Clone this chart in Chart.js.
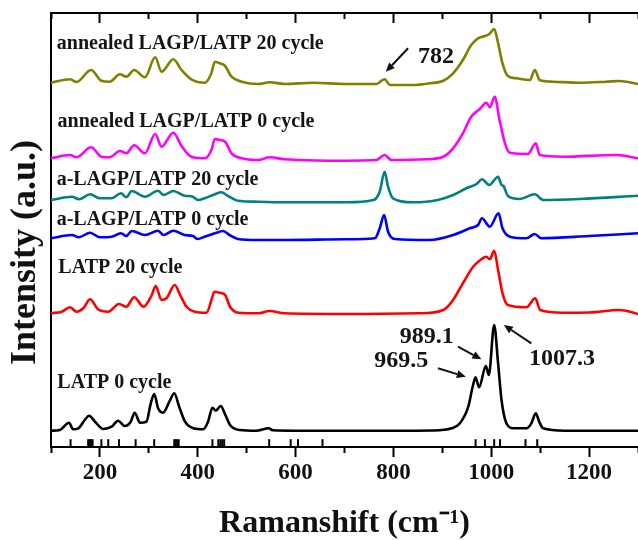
<!DOCTYPE html>
<html>
<head>
<meta charset="utf-8">
<script src="https://cdn.jsdelivr.net/npm/chart.js@4/dist/chart.umd.min.js"></script>
<style>
  html, body { margin: 0; padding: 0; background: #ffffff; }
  #wrap { width: 638px; height: 540px; }
</style>
</head>
<body>
<div id="wrap"><canvas id="c" width="638" height="540"></canvas></div>
<script>
// ---- data (Raman shift in cm^-1, intensity in arbitrary offset units) ----
const latp0X = [100,118,137,145,156,169,178,190,207,224,237,251,263,271,282,295,304,311,319,329,342,352,362,374,391,411,421,430,437,447,455,466,486,520,545,554,600,700,800,880,919,936,953,962,968,975,989,995,1006,1014,1021,1031,1045,1072,1082,1091,1098,1106,1150,1200,1250,1300];
const latp0Y = [16.3,17,24.3,17.7,18.7,27,31.3,25.3,18,20.3,26.3,21,25.3,34.3,24.3,25.3,43.7,53,38.7,34.3,45.3,53.7,40.3,25.3,18.7,17.7,25.3,39.3,36.3,41,33.7,22,17,16.3,18.7,16.7,16.3,16.3,16.3,16.5,18.7,23.7,40.3,60.3,69.7,59.7,81,72,122,83.7,47,23.7,18.7,18.7,23.7,33.7,25.3,18.7,16.3,16.3,16.3,16.3];

const latp20X = [100,122,139,152,166,180,196,217,239,254,270,289,306,314,326,336,353,364,377,394,418,428,434,445,456,466,483,523,547,578,700,854,902,922,942,963,976,990,997,1006,1014,1023,1034,1072,1090,1100,1147,1200,1262,1300];
const latp20Y = [133.7,135.3,139.7,135.3,138.7,147.7,137.7,135.3,143,140.3,149.7,140.3,152,161,147,148.7,162,152,140.3,135.3,134.3,147,155.3,154.3,152,140.3,134.3,133.7,136,133.7,133,133.7,137,147,163.7,180.3,186.3,190.3,187.7,196.3,177,153.7,142,139.7,148.7,137,134.3,134.5,137,133];

const aLagp0X = [100,143,157,180,200,224,243,254,265,292,319,330,350,373,390,400,414,435,452,465,482,523,578,704,762,772,781,789,803,874,922,956,973,981,997,1015,1023,1038,1072,1089,1102,1200,1300];
const aLagp0Y = [208.7,212,209.7,214.3,209.7,210.3,213.7,211,216,212,216.3,212,216.3,212,211,208,210.3,213.7,216,212,208,207,207,207.7,208.7,218.7,232,215.3,208,207,212,218.7,222,228.7,220.3,233.7,218.7,210.3,208.7,213,208.7,211,213.7];

const aLagp20X = [100,143,157,180,200,224,243,254,265,292,319,330,350,373,390,400,414,435,448,462,482,523,578,704,759,772,782,789,799,840,891,922,949,970,981,996,1014,1021,1025,1034,1058,1089,1106,1181,1300];
const aLagp20Y = [247,250.3,247.7,252.7,248.7,248.7,253.7,249.7,256,250.3,256.3,252,256,251.3,250.3,247,248.7,252.7,254.7,251,246.3,245.3,244.7,244.7,247,255.3,275.3,260.3,248.7,244.7,247,252,258.7,263,267.7,262,270.3,262,261,251,248,252.7,247,248,251.3];

const ann0X = [100,139,152,182,203,220,241,254,270,292,313,326,350,367,387,415,428,435,445,456,469,490,523,547,578,670,765,782,796,867,902,922,942,959,976,990,997,1007,1017,1028,1038,1075,1091,1099,1147,1256,1300];
const ann0Y = [288.7,292,289.7,299.7,290.3,289.7,296,293.7,301.7,293.7,313,300.3,314.3,301,290.3,288.7,297,308,307,305.3,293.7,288.7,287,289.7,287.7,286.3,287,292,287,287.7,290.3,298.7,313.7,330.3,337.7,344.3,339.7,350.3,327,303.7,294.3,293,303.7,292,290.3,292,288.7];

const ann20X = [100,139,152,182,203,220,241,254,270,292,313,326,350,367,387,415,428,435,445,456,469,490,523,547,578,636,704,765,776,782,793,840,874,902,922,942,959,973,987,996,1006,1014,1023,1034,1051,1079,1089,1099,1126,1181,1235,1262,1300];
const ann20Y = [364.3,367.7,365,377,366.3,365.3,372.7,370.3,377,369.7,389.7,375.3,387.7,377,367.7,364.3,374,385.3,383.7,381,370.3,365.3,363,364.7,363,364.3,363,363,366.3,367.7,362,362,363.7,366.3,373.7,387,402,408.7,411,413,418,403.7,383.7,371,368.7,367,377,367,365.3,364.3,365.3,366,363];

// reference line positions (rug marks under the spectra)
const rugX = [140,176,179,182,185,203,217,239,273,311,352,355,358,361,430,442,446,450,454,546,590,605,655,968,987,1006,1018,1070,1094];
const rugLevel = 4.3;

// series labels
const seriesNames = ['LATP 0 cycle','LATP 20 cycle','a-LAGP/LATP 0 cycle','a-LAGP/LATP 20 cycle','annealed LAGP/LATP 0 cycle','annealed LAGP/LATP 20 cycle'];
const labelX = [113,115,111.5,111.5,113.5,112];
const labelY = [58.7,174.3,222,262,319.7,398.5];

// peak annotations
const peakText = ['782','969.5','989.1','1007.3'];
const peakTextX = [850.5,761,813,1077];
const peakTextY = [383.7,80.3,104.3,82];
const arrowTailX = [830,891,932,1082];
const arrowTailY = [398.7,78.7,100.3,103.7];
const arrowHeadX = [784.4,948,980,1025.6];
const arrowHeadY = [375.3,70.3,87.7,122];

const tickStep = 100;
const xMin = 100, xMax = 1300, yMin = 0, yMax = 434;

// ---- build ----
function pts(xs, ys) { return xs.map((v, i) => ({ x: v, y: ys[i] })); }
function lineDs(xs, ys, color) {
  return { data: pts(xs, ys), borderColor: color, backgroundColor: color, borderWidth: 2.6,
           pointRadius: 0, pointHoverRadius: 0, fill: false, cubicInterpolationMode: 'monotone', clip: 2 };
}
const SERIF = '"Liberation Serif", "Times New Roman", serif';

const annotPlugin = {
  id: 'annot',
  afterDatasetsDraw(chart) {
    const ctx = chart.ctx;
    const xs = chart.scales.x, ys = chart.scales.y;
    ctx.save();
    ctx.fillStyle = '#151515';
    ctx.textAlign = 'left';
    ctx.textBaseline = 'alphabetic';
    ctx.font = 'bold 20px ' + SERIF;
    seriesNames.forEach((t, i) => {
      ctx.fillText(t, xs.getPixelForValue(labelX[i]), ys.getPixelForValue(labelY[i]));
    });
    ctx.font = 'bold 24px ' + SERIF;
    peakText.forEach((t, i) => {
      ctx.fillText(t, xs.getPixelForValue(peakTextX[i]), ys.getPixelForValue(peakTextY[i]));
    });
    ctx.strokeStyle = '#111';
    ctx.fillStyle = '#111';
    ctx.lineWidth = 2;
    arrowTailX.forEach((v, i) => {
      const x1 = xs.getPixelForValue(v), y1 = ys.getPixelForValue(arrowTailY[i]);
      const x2 = xs.getPixelForValue(arrowHeadX[i]), y2 = ys.getPixelForValue(arrowHeadY[i]);
      const ang = Math.atan2(y2 - y1, x2 - x1);
      const hl = 9, hw = 4;
      const bx = x2 - hl * Math.cos(ang), by = y2 - hl * Math.sin(ang);
      ctx.beginPath(); ctx.moveTo(x1, y1); ctx.lineTo(bx, by); ctx.stroke();
      ctx.beginPath();
      ctx.moveTo(x2, y2);
      ctx.lineTo(bx + hw * Math.sin(ang), by - hw * Math.cos(ang));
      ctx.lineTo(bx - hw * Math.sin(ang), by + hw * Math.cos(ang));
      ctx.closePath(); ctx.fill();
    });
    ctx.restore();
  }
};

new Chart(document.getElementById('c'), {
  type: 'line',
  data: {
    datasets: [
      lineDs(latp0X, latp0Y, '#000000'),
      lineDs(latp20X, latp20Y, '#ff0000'),
      lineDs(aLagp0X, aLagp0Y, '#0000ff'),
      lineDs(aLagp20X, aLagp20Y, '#008080'),
      lineDs(ann0X, ann0Y, '#ff00ff'),
      lineDs(ann20X, ann20Y, '#808000'),
      { data: rugX.map(v => ({ x: v, y: rugLevel })), showLine: false, pointStyle: 'line',
        rotation: 90, pointRadius: 3.5, pointHoverRadius: 3.5, borderColor: '#000', borderWidth: 2, clip: false }
    ]
  },
  plugins: [annotPlugin],
  options: {
    responsive: false,
    animation: false,
    devicePixelRatio: 1,
    layout: { autoPadding: false, padding: { top: 13, left: 0, right: 0, bottom: 0 } },
    plugins: { legend: { display: false }, tooltip: { enabled: false } },
    scales: {
      x: {
        type: 'linear', position: 'bottom', min: xMin, max: xMax,
        afterFit: s => { s.height = 93; s.paddingLeft = 0; s.paddingRight = 0; },
        ticks: { stepSize: tickStep, autoSkip: false, maxRotation: 0, padding: 0, color: '#111',
                 font: { family: SERIF, size: 23, weight: 'bold' },
                 callback: v => (v % 200 === 0 ? String(v) : '') },
        grid: { display: true, drawOnChartArea: false, drawTicks: true, tickLength: 12, tickWidth: 2, tickColor: '#000',
                tickBorderDash: c => (c.tick && c.tick.value % 200 !== 0 ? [5, 60] : [9, 60]) },
        border: { display: true, color: '#000', width: 2 },
        title: { display: true, text: 'Ramanshift (cm⁻¹)', color: '#111',
                 font: { family: SERIF, size: 32, weight: 'bold', lineHeight: 1 }, padding: { top: 0, bottom: 0 } }
      },
      x2: {
        type: 'linear', position: 'top', min: xMin, max: xMax,
        afterFit: s => { s.height = 0; s.paddingLeft = 0; s.paddingRight = 0; },
        ticks: { stepSize: tickStep, display: false, autoSkip: false, padding: 0 },
        grid: { display: true, drawOnChartArea: false, drawTicks: true, tickLength: -10, tickWidth: 2, tickColor: '#000',
                tickBorderDash: c => (c.tick && c.tick.value % 200 !== 0 ? [0, 4, 10, 60] : []) },
        border: { display: true, color: '#000', width: 2 }
      },
      y: {
        type: 'linear', position: 'left', min: yMin, max: yMax,
        afterFit: s => { s.width = 51; },
        ticks: { display: false },
        grid: { display: false },
        border: { display: true, color: '#000', width: 2 },
        title: { display: true, text: 'Intensity (a.u.)     ', color: '#111',
                 font: { family: SERIF, size: 36, weight: 'bold', lineHeight: 1 }, padding: { top: 8, bottom: 0 } }
      }
    }
  }
});
</script>
</body>
</html>
